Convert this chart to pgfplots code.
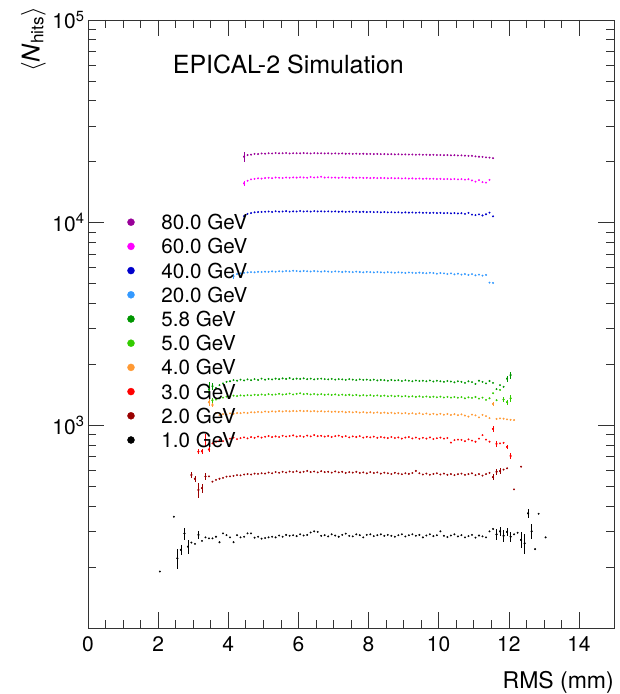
\documentclass[border=0pt]{standalone}
\usepackage{pgfplots}
\pgfplotsset{compat=1.18}
\usepackage{fontspec}
\setmainfont{TeX Gyre Heros}
\definecolor{c80}{RGB}{153,0,153}
\definecolor{c60}{RGB}{255,0,255}
\definecolor{c40}{RGB}{0,0,204}
\definecolor{c20}{RGB}{51,153,255}
\definecolor{c58}{RGB}{0,150,0}
\definecolor{c50}{RGB}{51,204,0}
\definecolor{c40b}{RGB}{255,153,51}
\definecolor{c30}{RGB}{255,0,0}
\definecolor{c20b}{RGB}{153,0,0}
\definecolor{c10}{RGB}{0,0,0}
\begin{document}
\begin{tikzpicture}
\useasboundingbox (-88pt,-66pt) rectangle (532pt,628pt);
\begin{axis}[
  at={(0pt,0pt)}, anchor=south west,
  scale only axis, width=526pt, height=608pt,
  xmin=0, xmax=15, ymin=100, ymax=100000, ymode=log,
  axis line style={black!80, line width=0.8pt},
  every tick/.style={black!80, line width=0.6pt},
  tick align=inside, xtick pos=both, ytick pos=both,
  major tick length=16.5pt, minor tick length=8.3pt,
  xtick={0,2,...,14}, minor x tick num=3,
  ytick={100,1000,10000,100000},
  yticklabels={,10\textsuperscript{3},10\textsuperscript{4},10\textsuperscript{5}},
  minor ytick={200,300,400,500,600,700,800,900,2000,3000,4000,5000,6000,7000,8000,9000,20000,30000,40000,50000,60000,70000,80000,90000},
  /pgf/number format/assume math mode=true,
  xticklabel style={font=\fontsize{21}{25}\selectfont, yshift=-5pt},
  yticklabel style={font=\fontsize{21}{25}\selectfont},
  xlabel={RMS (mm)},
  xlabel style={at={(axis description cs:1,0)}, anchor=base east, yshift=-60.6pt, inner sep=0pt, font=\fontsize{23}{28}\selectfont},
  ylabel={$\langle$\textit{N}\textsubscript{hits}$\rangle$},
  ylabel style={at={(axis description cs:-0.104,1.022)}, anchor=east, inner sep=0pt, font=\fontsize{24.5}{29}\selectfont},
  every axis plot/.append style={only marks, mark=*, mark size=0.75pt},
  error bars/error bar style={line width=0.4pt},
  legend style={at={(axis description cs:0.0747,0.6801)}, anchor=north west, draw=none, fill=none, inner sep=0pt, row sep=9.2pt, column sep=27pt, font=\fontsize{20.6}{24}\selectfont, nodes={inner sep=0pt, text height=15pt, text depth=0pt}},
  legend cell align=left,
  legend image code/.code={\draw[mark repeat=1,mark phase=1,#1,mark size=3.5pt] plot coordinates {(0pt,0pt)};},
]
% 80 GeV
\addplot[c80] table {
4.45 21150
4.55 21560
4.65 21650
4.75 21850
4.85 21800
4.95 21950
5.05 21900
5.15 22000
5.25 21950
5.35 22050
5.45 21980
5.55 22000
5.65 22050
5.75 21950
5.85 22020
5.95 22000
6.05 21980
6.15 22050
6.25 22000
6.35 21950
6.45 22030
6.55 21990
6.65 22000
6.75 21950
6.85 22000
6.95 21920
7.05 21980
7.15 21900
7.25 21950
7.35 21880
7.45 21920
7.55 21870
7.65 21900
7.75 21850
7.85 21880
7.95 21820
8.05 21850
8.15 21800
8.25 21830
8.35 21780
8.45 21800
8.55 21750
8.65 21780
8.75 21720
8.85 21750
8.95 21700
9.05 21720
9.15 21680
9.25 21700
9.35 21650
9.45 21680
9.55 21620
9.65 21650
9.75 21600
9.85 21620
9.95 21560
10.05 21580
10.15 21530
10.25 21550
10.35 21500
10.45 21520
10.55 21450
10.65 21480
10.75 21400
10.85 21350
10.95 21380
11.05 21250
11.15 21150
11.25 21100
11.35 21000
11.45 20950
11.55 20800
};
\addlegendentry{80.0 GeV}
% 60 GeV
\addplot[c60] table {
4.45 15620
4.55 16100
4.65 16350
4.75 16450
4.85 16550
4.95 16500
5.05 16600
5.15 16650
5.25 16580
5.35 16700
5.45 16650
5.55 16600
5.65 16700
5.75 16650
5.85 16720
5.95 16680
6.05 16750
6.15 16700
6.25 16650
6.35 16800
6.45 16700
6.55 16750
6.65 16850
6.75 16700
6.85 16720
6.95 16680
7.05 16700
7.15 16650
7.25 16720
7.35 16680
7.45 16650
7.55 16700
7.65 16640
7.75 16680
7.85 16620
7.95 16650
8.05 16600
8.15 16650
8.25 16580
8.35 16620
8.45 16600
8.55 16560
8.65 16600
8.75 16550
8.85 16580
8.95 16520
9.05 16560
9.15 16500
9.25 16540
9.35 16480
9.45 16520
9.55 16450
9.65 16500
9.75 16460
9.85 16480
9.95 16420
10.05 16450
10.15 16400
10.25 16430
10.35 16380
10.45 16420
10.55 16350
10.65 16400
10.75 16300
10.85 16380
10.95 16150
11.05 15950
11.15 16200
11.25 15850
11.35 15750
11.45 16250
};
\addlegendentry{60.0 GeV}
% 40 GeV
\addplot[c40] table {
4.45 10780
4.55 11050
4.65 11150
4.75 11250
4.85 11280
4.95 11300
5.05 11320
5.15 11350
5.25 11300
5.35 11380
5.45 11330
5.55 11350
5.65 11400
5.75 11330
5.85 11370
5.95 11350
6.05 11420
6.15 11350
6.25 11380
6.35 11340
6.45 11400
6.55 11360
6.65 11380
6.75 11350
6.85 11370
6.95 11330
7.05 11360
7.15 11320
7.25 11350
7.35 11300
7.45 11340
7.55 11310
7.65 11330
7.75 11290
7.85 11320
7.95 11280
8.05 11300
8.15 11270
8.25 11290
8.35 11250
8.45 11280
8.55 11240
8.65 11260
8.75 11230
8.85 11250
8.95 11200
9.05 11240
9.15 11210
9.25 11230
9.35 11190
9.45 11220
9.55 11180
9.65 11200
9.75 11170
9.85 11190
9.95 11150
10.05 11180
10.15 11140
10.25 11160
10.35 11120
10.45 11150
10.55 11100
10.65 11130
10.75 11050
10.85 11180
10.95 10950
11.05 10900
11.15 10980
11.25 10850
11.35 11000
11.45 11200
11.55 10750
};
\addlegendentry{40.0 GeV}
% 20 GeV
\addplot[c20] table {
4.15 5450
4.25 5580
4.35 5620
4.45 5650
4.55 5680
4.65 5700
4.75 5690
4.85 5720
4.95 5710
5.05 5730
5.15 5720
5.25 5750
5.35 5730
5.45 5760
5.55 5740
5.65 5780
5.75 5760
5.85 5790
5.95 5770
6.05 5750
6.15 5780
6.25 5760
6.35 5740
6.45 5770
6.55 5750
6.65 5730
6.75 5760
6.85 5740
6.95 5720
7.05 5750
7.15 5730
7.25 5710
7.35 5740
7.45 5720
7.55 5700
7.65 5730
7.75 5710
7.85 5690
7.95 5720
8.05 5700
8.15 5680
8.25 5710
8.35 5690
8.45 5670
8.55 5700
8.65 5680
8.75 5660
8.85 5690
8.95 5670
9.05 5650
9.15 5680
9.25 5660
9.35 5640
9.45 5670
9.55 5650
9.65 5630
9.75 5660
9.85 5640
9.95 5600
10.05 5640
10.15 5620
10.25 5580
10.35 5620
10.45 5560
10.55 5600
10.65 5540
10.75 5580
10.85 5520
10.95 5570
11.05 5500
11.15 5540
11.25 5480
11.35 5520
11.45 5060
11.55 5040
};
\addlegendentry{20.0 GeV}
% 5.8 GeV
\addplot[c58] table {
3.45 1500
3.55 1560
3.65 1530
3.75 1580
3.85 1610
3.95 1640
4.05 1650
4.15 1670
4.25 1660
4.35 1680
4.45 1665
4.55 1685
4.65 1670
4.75 1690
4.85 1675
4.95 1700
5.05 1680
5.15 1695
5.25 1685
5.35 1700
5.45 1690
5.55 1705
5.65 1695
5.75 1710
5.85 1690
5.95 1700
6.05 1695
6.15 1705
6.25 1690
6.35 1700
6.45 1685
6.55 1695
6.65 1700
6.75 1690
6.85 1685
6.95 1695
7.05 1680
7.15 1690
7.25 1685
7.35 1675
7.45 1690
7.55 1680
7.65 1670
7.75 1685
7.85 1675
7.95 1680
8.05 1670
8.15 1680
8.25 1665
8.35 1675
8.45 1670
8.55 1660
8.65 1675
8.75 1665
8.85 1670
8.95 1655
9.05 1670
9.15 1660
9.25 1650
9.35 1665
9.45 1655
9.55 1660
9.65 1650
9.75 1665
9.85 1645
9.95 1660
10.05 1650
10.15 1640
10.25 1655
10.35 1645
10.45 1630
10.55 1650
10.65 1640
10.75 1620
10.85 1650
10.95 1635
11.05 1600
11.15 1660
11.25 1640
11.35 1610
11.45 1655
11.55 1620
11.65 1510
11.75 1580
11.85 1550
11.95 1700
12.05 1770
};
\addlegendentry{5.8 GeV}
% 5.0 GeV
\addplot[c50] table {
3.45 1450
3.55 1330
3.65 1340
3.75 1360
3.85 1370
3.95 1385
4.05 1390
4.15 1400
4.25 1395
4.35 1405
4.45 1400
4.55 1410
4.65 1405
4.75 1415
4.85 1410
4.95 1420
5.05 1412
5.15 1425
5.25 1415
5.35 1420
5.45 1430
5.55 1418
5.65 1425
5.75 1435
5.85 1420
5.95 1430
6.05 1440
6.15 1425
6.25 1430
6.35 1420
6.45 1428
6.55 1418
6.65 1425
6.75 1415
6.85 1422
6.95 1412
7.05 1420
7.15 1410
7.25 1418
7.35 1408
7.45 1415
7.55 1405
7.65 1412
7.75 1400
7.85 1410
7.95 1402
8.05 1408
8.15 1398
8.25 1405
8.35 1395
8.45 1402
8.55 1392
8.65 1400
8.75 1390
8.85 1398
8.95 1388
9.05 1395
9.15 1385
9.25 1392
9.35 1382
9.45 1390
9.55 1380
9.65 1388
9.75 1378
9.85 1385
9.95 1375
10.05 1385
10.15 1372
10.25 1382
10.35 1370
10.45 1380
10.55 1368
10.65 1378
10.75 1360
10.85 1375
10.95 1365
11.05 1380
11.15 1355
11.25 1370
11.35 1335
11.45 1360
11.55 1440
11.65 1330
11.75 1495
11.85 1340
11.95 1300
12.05 1360
};
\addlegendentry{5.0 GeV}
% 4.0 GeV
\addplot[c40b] table {
3.45 1300
3.55 1260
3.65 1150
3.75 1124
3.85 1135
3.95 1130
4.05 1145
4.15 1140
4.25 1150
4.35 1148
4.45 1155
4.55 1150
4.65 1160
4.75 1158
4.85 1165
4.95 1160
5.05 1170
5.15 1165
5.25 1172
5.35 1168
5.45 1175
5.55 1170
5.65 1176
5.75 1172
5.85 1178
5.95 1174
6.05 1180
6.15 1175
6.25 1178
6.35 1172
6.45 1176
6.55 1170
6.65 1174
6.75 1168
6.85 1172
6.95 1166
7.05 1170
7.15 1164
7.25 1168
7.35 1160
7.45 1166
7.55 1158
7.65 1164
7.75 1155
7.85 1162
7.95 1154
8.05 1160
8.15 1152
8.25 1158
8.35 1150
8.45 1156
8.55 1148
8.65 1154
8.75 1145
8.85 1152
8.95 1144
9.05 1150
9.15 1140
9.25 1148
9.35 1138
9.45 1146
9.55 1135
9.65 1144
9.75 1132
9.85 1140
9.95 1130
10.05 1140
10.15 1128
10.25 1138
10.35 1125
10.45 1135
10.55 1122
10.65 1132
10.75 1118
10.85 1105
10.95 1130
11.05 1120
11.15 1095
11.25 1125
11.35 1110
11.45 1085
11.55 1275
11.65 1075
11.75 1082
11.85 1078
11.95 1070
12.05 1065
12.15 1062
};
\addlegendentry{4.0 GeV}
% 3.0 GeV
\addplot[c30] table {
3.15 741
3.25 745
3.35 850
3.45 760
3.55 815
3.65 830
3.75 845
3.85 835
3.95 855
4.05 860
4.15 870
4.25 855
4.35 865
4.45 872
4.55 862
4.65 875
4.75 868
4.85 880
4.95 870
5.05 878
5.15 885
5.25 875
5.35 882
5.45 876
5.55 888
5.65 880
5.75 885
5.85 892
5.95 880
6.05 886
6.15 878
6.25 890
6.35 882
6.45 895
6.55 884
6.65 888
6.75 880
6.85 886
6.95 876
7.05 884
7.15 890
7.25 878
7.35 884
7.45 872
7.55 882
7.65 876
7.75 884
7.85 870
7.95 878
8.05 872
8.15 880
8.25 868
8.35 876
8.45 870
8.55 865
8.65 876
8.75 866
8.85 872
8.95 860
9.05 870
9.15 875
9.25 862
9.35 870
9.45 858
9.55 868
9.65 860
9.75 872
9.85 856
9.95 864
10.05 870
10.15 860
10.25 866
10.35 822
10.45 845
10.55 850
10.65 848
10.75 835
10.85 852
10.95 840
11.05 830
11.15 860
11.25 895
11.35 850
11.45 830
11.55 960
11.65 810
11.75 815
11.85 820
11.95 783
12.05 706
};
\addlegendentry{3.0 GeV}
% 2.0 GeV
\addplot[c20b] table {
2.95 569
3.05 545
3.15 480
3.25 490
3.35 560
3.45 560
3.55 527
3.65 538
3.75 545
3.85 550
3.95 558
4.05 560
4.15 563
4.25 568
4.35 566
4.45 572
4.55 575
4.65 572
4.75 578
4.85 576
4.95 580
5.05 578
5.15 585
5.25 580
5.35 588
5.45 583
5.55 590
5.65 585
5.75 592
5.85 588
5.95 594
6.05 586
6.15 590
6.25 596
6.35 588
6.45 592
6.55 586
6.65 594
6.75 588
6.85 590
6.95 584
7.05 592
7.15 586
7.25 590
7.35 582
7.45 588
7.55 584
7.65 590
7.75 582
7.85 586
7.95 580
8.05 588
8.15 582
8.25 586
8.35 578
8.45 584
8.55 580
8.65 575
8.75 583
8.85 578
8.95 574
9.05 580
9.15 576
9.25 582
9.35 596
9.45 580
9.55 572
9.65 578
9.75 570
9.85 576
9.95 580
10.05 572
10.15 578
10.25 570
10.35 575
10.45 568
10.55 574
10.65 578
10.75 570
10.85 575
10.95 580
11.05 568
11.15 575
11.25 565
11.35 575
11.45 583
11.55 555
11.65 590
11.75 595
11.85 605
11.95 614
12.15 483
12.35 625
};
\addlegendentry{2.0 GeV}
% 1.0 GeV
\addplot[c10] table {
2.05 190
2.45 354
2.55 221
2.65 243
2.75 293
2.85 252
2.95 264
3.05 260
3.15 288
3.25 269
3.35 280
3.45 277
3.55 277
3.65 282
3.75 265
3.85 293
3.95 287
4.05 280
4.15 265
4.25 287
4.35 280
4.45 282
4.55 293
4.65 293
4.75 279
4.85 282
4.95 276
5.05 278
5.15 280
5.25 282
5.35 280
5.45 286
5.55 282
5.65 288
5.75 285
5.85 287
5.95 284
6.05 290
6.15 286
6.25 288
6.35 296
6.45 300
6.55 298
6.65 285
6.75 287
6.85 283
6.95 290
7.05 286
7.15 282
7.25 288
7.35 292
7.45 285
7.55 283
7.65 290
7.75 287
7.85 280
7.95 288
8.05 290
8.15 284
8.25 287
8.35 290
8.45 285
8.55 288
8.65 285
8.75 282
8.85 287
8.95 290
9.05 283
9.15 287
9.25 290
9.35 285
9.45 288
9.55 280
9.65 286
9.75 290
9.85 284
9.95 287
10.05 300
10.15 285
10.25 281
10.35 286
10.45 290
10.55 283
10.65 287
10.75 280
10.85 284
10.95 288
11.05 279
11.15 286
11.25 283
11.35 280
11.45 300
11.55 308
11.65 290
11.75 300
11.85 285
11.95 298
12.05 282
12.15 290
12.25 295
12.35 272
12.45 262
12.55 368
12.65 300
12.75 245
12.85 366
13.05 280
};
\addlegendentry{1.0 GeV}
% error bars at the sparse edges
\addplot[c80, forget plot, error bars/.cd, y dir=both, y explicit, error mark=none] coordinates {(4.45,21150) +- (0,1200)};
\addplot[c60, forget plot, error bars/.cd, y dir=both, y explicit, error mark=none] coordinates {(4.45,15620) +- (0,400)};
\addplot[c20, forget plot, error bars/.cd, y dir=both, y explicit, error mark=none] coordinates {(4.15,5450) +- (0,160)};
\addplot[c58, forget plot, error bars/.cd, y dir=both, y explicit, error mark=none] coordinates {(3.45,1500) +- (0,130) (3.55,1560) +- (0,60) (11.95,1700) +- (0,60) (12.05,1770) +- (0,70)};
\addplot[c50, forget plot, error bars/.cd, y dir=both, y explicit, error mark=none] coordinates {(3.45,1450) +- (0,100) (3.55,1330) +- (0,40) (11.85,1340) +- (0,40) (11.95,1300) +- (0,40) (12.05,1360) +- (0,50)};
\addplot[c40b, forget plot, error bars/.cd, y dir=both, y explicit, error mark=none] coordinates {(3.45,1300) +- (0,50) (3.55,1260) +- (0,35) (11.55,1275) +- (0,30)};
\addplot[c30, forget plot, error bars/.cd, y dir=both, y explicit, error mark=none] coordinates {(3.15,741) +- (0,20) (3.25,745) +- (0,20) (3.35,850) +- (0,60) (3.45,760) +- (0,25) (11.55,960) +- (0,30) (11.65,810) +- (0,30) (11.95,783) +- (0,20) (12.05,706) +- (0,25)};
\addplot[c20b, forget plot, error bars/.cd, y dir=both, y explicit, error mark=none] coordinates {(2.95,569) +- (0,20) (3.05,545) +- (0,20) (3.15,480) +- (0,40) (3.25,490) +- (0,25) (3.35,560) +- (0,20) (11.55,555) +- (0,20) (11.65,590) +- (0,20) (11.75,595) +- (0,20)};
\addplot[c10, forget plot, error bars/.cd, y dir=both, y explicit, error mark=none] coordinates {(2.55,221) +- (0,25) (2.65,243) +- (0,15) (2.75,293) +- (0,20) (2.85,252) +- (0,20) (3.15,288) +- (0,12) (11.65,290) +- (0,18) (11.75,300) +- (0,15) (11.85,285) +- (0,20) (11.95,298) +- (0,15) (12.05,282) +- (0,15) (12.35,272) +- (0,25) (12.45,262) +- (0,30) (12.55,368) +- (0,20) (12.65,300) +- (0,25)};
\node[anchor=base west, inner sep=0pt, font=\fontsize{25}{30}\selectfont] at (axis description cs:0.161,0.9123) {EPICAL-2 Simulation};
\end{axis}
\end{tikzpicture}
\end{document}
